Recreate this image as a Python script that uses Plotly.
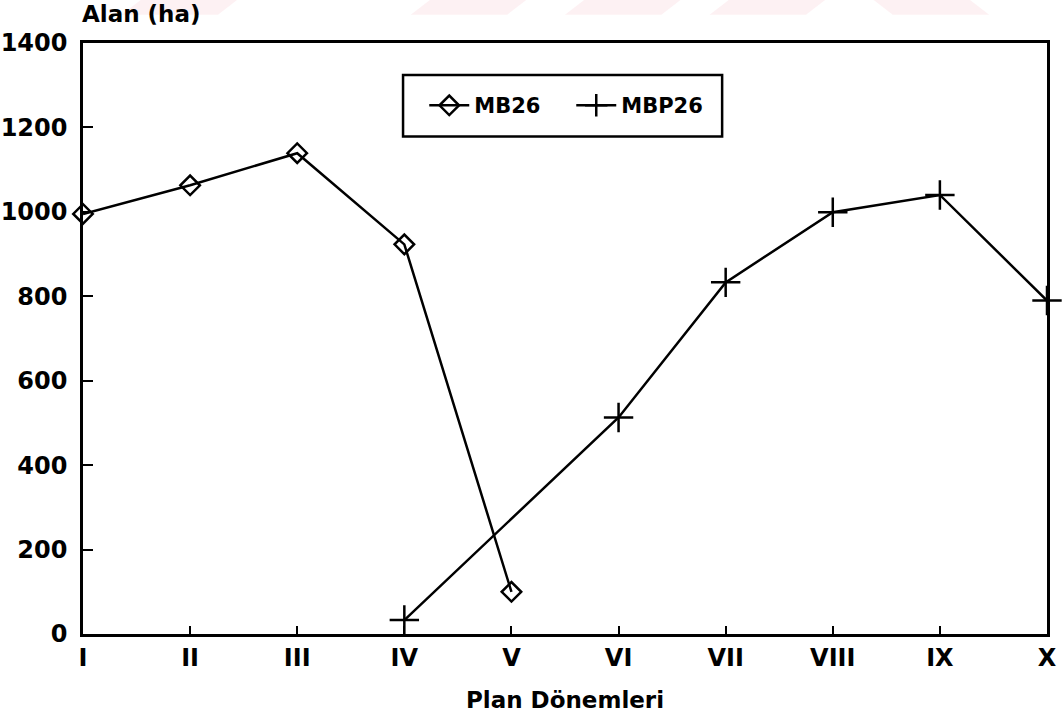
import plotly.graph_objects as go

# Plan periods (Roman numerals) and areas in hectares
periods = ["I", "II", "III", "IV", "V", "VI", "VII", "VIII", "IX", "X"]
mb26 = [995, 1063, 1139, 923, 100, None, None, None, None, None]
mbp26 = [None, None, None, 33, None, 513, 833, 999, 1040, 790]

FONT = "DejaVu Sans"
INK = "black"

fig = go.Figure()

fig.add_trace(go.Scatter(
    x=periods, y=mb26, name="MB26", mode="lines+markers",
    line=dict(color=INK, width=2.5),
    marker=dict(symbol="diamond-open", size=15, color=INK, line=dict(width=2.5)),
    cliponaxis=False, connectgaps=False,
))
fig.add_trace(go.Scatter(
    x=periods, y=mbp26, name="MBP26", mode="lines+markers",
    line=dict(color=INK, width=2.5),
    marker=dict(symbol="cross-thin-open", size=21, color=INK, line=dict(width=2.5, color=INK)),
    cliponaxis=False, connectgaps=True,
))

# faint watermark bands along the top edge
for x0 in [0.06, 0.36, 0.52, 0.67]:
    fig.add_shape(type="path", xref="paper", yref="paper",
                  path=f"M {x0} 1.073 L {x0+0.1} 1.073 L {x0+0.08} 1.048 L {x0-0.02} 1.048 Z",
                  fillcolor="rgba(235,120,140,0.10)", line=dict(width=0), layer="below")
for x0 in [0.82]:
    fig.add_shape(type="path", xref="paper", yref="paper",
                  path=f"M {x0} 1.073 L {x0+0.1} 1.073 L {x0+0.12} 1.048 L {x0+0.02} 1.048 Z",
                  fillcolor="rgba(235,120,140,0.10)", line=dict(width=0), layer="below")

# legend frame
fig.add_shape(type="rect", xref="paper", yref="paper",
              x0=0.332, x1=0.663, y0=0.842, y1=0.946,
              line=dict(color=INK, width=2.5), fillcolor="white", layer="above")

fig.update_layout(
    width=1064, height=718,
    margin=dict(l=83, r=17, t=43, b=84),
    paper_bgcolor="white", plot_bgcolor="white",
    font=dict(family=FONT, color=INK),
    showlegend=True,
    legend=dict(
        orientation="h", x=0.354, y=0.894, xanchor="left", yanchor="middle",
        bgcolor="rgba(0,0,0,0)", borderwidth=0,
        font=dict(family=FONT, size=21, color=INK, weight="bold"),
        itemwidth=40, entrywidth=92,
    ),
    annotations=[dict(
        text="<b>Alan (ha)</b>", xref="paper", yref="paper", x=-0.003, y=1.049,
        xanchor="left", yanchor="middle", showarrow=False,
        font=dict(family=FONT, size=23, color=INK),
    )],
)

fig.update_xaxes(
    type="category", range=[0, 9], automargin=False,
    showline=True, linecolor=INK, linewidth=2.5, mirror=True,
    ticks="inside", ticklen=8, tickwidth=2, tickcolor=INK,
    showgrid=False, zeroline=False,
    tickfont=dict(family=FONT, size=24, color=INK, weight="bold"),
    title=dict(text="<b>Plan Dönemleri</b>", font=dict(family=FONT, size=23, color=INK), standoff=22),
)
fig.update_yaxes(
    range=[0, 1400], dtick=200, tick0=0, automargin=False,
    showline=True, linecolor=INK, linewidth=2.5, mirror=True,
    ticks="inside", ticklen=10, tickwidth=2, tickcolor=INK,
    showgrid=False, zeroline=False, ticklabelstandoff=8,
    tickfont=dict(family=FONT, size=24, color=INK, weight="bold"),
)

fig.write_html("out.html")
